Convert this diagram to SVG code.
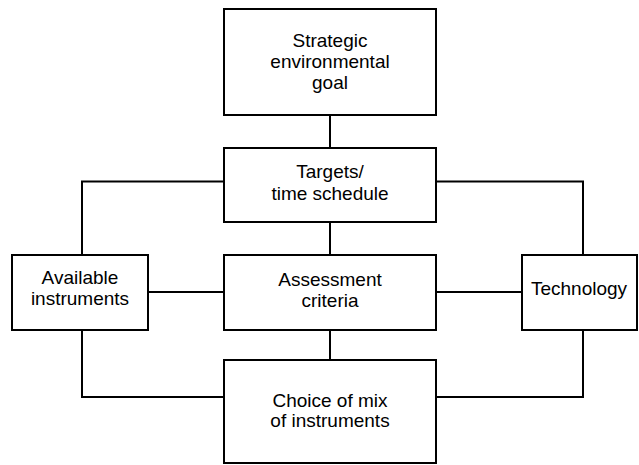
<svg xmlns="http://www.w3.org/2000/svg" width="639" height="465" viewBox="0 0 639 465">
<style>
.box{fill:#fff;stroke:#000;stroke-width:2}
.ln{fill:none;stroke:#000;stroke-width:2}
text{font-family:"Liberation Sans",Arial,sans-serif;font-size:19px;fill:#000;text-anchor:middle}
</style>
<rect width="639" height="465" fill="#fff"/>
<g id="connectors">
<path class="ln" d="M330 115V148M330 222V255M330 330V360"/>
<path class="ln" d="M224 181.5H82V255M436 181.5H583V255"/>
<path class="ln" d="M148 292H224M436 292H522"/>
<path class="ln" d="M82 330V397H224M583 330V397H436"/>
</g>
<g id="strategic"><rect class="box" x="224" y="9" width="212" height="106"/>
<text x="330" y="47">Strategic</text><text x="330" y="68">environmental</text><text x="330" y="89">goal</text></g>
<g id="targets"><rect class="box" x="224" y="148" width="212" height="74"/>
<text x="330" y="178">Targets/</text><text x="330" y="200">time schedule</text></g>
<g id="available"><rect class="box" x="12" y="255" width="136" height="75"/>
<text x="80" y="284">Available</text><text x="80" y="305">instruments</text></g>
<g id="assessment"><rect class="box" x="224" y="255" width="212" height="75"/>
<text x="330" y="286">Assessment</text><text x="330" y="307">criteria</text></g>
<g id="technology"><rect class="box" x="522" y="255" width="115" height="75"/>
<text x="579" y="295">Technology</text></g>
<g id="choice"><rect class="box" x="224" y="360" width="212" height="103"/>
<text x="330" y="407">Choice of mix</text><text x="330" y="427">of instruments</text></g>
</svg>
